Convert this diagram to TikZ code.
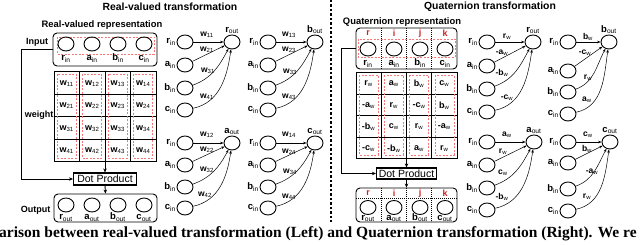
\documentclass[tikz,border=0pt]{standalone}
\usepackage{fontspec}
\setmainfont{Liberation Sans}
\newfontfamily\capfont{Liberation Serif}
\usetikzlibrary{shapes.geometric,arrows.meta}
\definecolor{dred}{RGB}{205,35,35}
\definecolor{lred}{RGB}{245,120,120}
\newcommand\sbs[2]{#1\textsubscript{\mdseries #2}}
\tikzset{
  nd/.style={ellipse,draw,line width=0.9pt,minimum width=16pt,minimum height=14pt,inner sep=0pt},
  vl/.style={font=\fontsize{9.5}{10}\selectfont\bfseries,inner sep=0pt},
  wl/.style={font=\fontsize{8.5}{9}\selectfont\bfseries,inner sep=0pt},
  cl/.style={font=\fontsize{9}{10}\selectfont\bfseries,inner sep=0pt},
  tl/.style={font=\fontsize{10.4}{11}\selectfont\bfseries,inner sep=0pt},
  sl/.style={font=\fontsize{9.4}{10}\selectfont\bfseries,inner sep=0pt},
  ql/.style={font=\fontsize{9}{10}\selectfont\bfseries,text=dred,inner sep=0pt},
  edge/.style={-{Stealth[length=3.5pt,width=2.6pt]},line width=0.5pt},
  rbox/.style={draw,rounded corners=4pt,line width=0.9pt,inner sep=0pt},
  gridl/.style={line width=1pt},
  rdash/.style={draw=lred,line width=0.7pt,dash pattern=on 2pt off 1.5pt},
  dotl/.style={line width=0.7pt,dash pattern=on 0.8pt off 1.2pt},
  flow/.style={-{Stealth[length=4pt,width=3.5pt]},line width=0.9pt},
  dotbox/.style={draw,line width=1.1pt,font=\fontsize{10.5}{11}\selectfont,inner sep=0pt},
}
% #1 prefix, #2 x in, #3 x out, #4-#7 y of r,a,b,c inputs, #8 output letter
\newcommand\mkgraph[8]{%
  \node[nd] (#1r) at (#2,-#4) {};
  \node[nd] (#1a) at (#2,-#5) {};
  \node[nd] (#1b) at (#2,-#6) {};
  \node[nd] (#1c) at (#2,-#7) {};
  \node[nd] (#1o) at (#3,-#4) {};
  \node[vl,anchor=east] (#1rl) at ([xshift=-0.5pt]#1r.west) {\sbs{r}{in}};
  \node[vl,anchor=east] (#1al) at ([xshift=-0.5pt]#1a.west) {\sbs{a}{in}};
  \node[vl,anchor=east] (#1bl) at ([xshift=-0.5pt]#1b.west) {\sbs{b}{in}};
  \node[vl,anchor=east] (#1cl) at ([xshift=-0.5pt]#1c.west) {\sbs{c}{in}};
  \node[vl,anchor=south] (#1ol) at ([yshift=1pt]#1o.north) {\sbs{#8}{out}};
  \draw[edge] (#1r) -- (#1o);
  \draw[edge] (#1a) -- (#1o);
  \draw[edge] (#1b) to[out=20,in=-118] (#1o);
  \draw[edge] (#1c) to[out=12,in=-98] (#1o);
}
\begin{document}
\begin{tikzpicture}[x=1pt,y=1pt]
\useasboundingbox (0,0) rectangle (640,-245);
\clip (0,0) rectangle (640,-245);

% titles
\node[tl] (t1) at (170,-7) {Real-valued transformation};
\node[tl] (t2) at (490,-7) {Quaternion transformation};
\node[sl] (s1) at (102,-25) {Real-valued representation};
\node[sl] (s2) at (402,-22) {Quaternion representation};

% separator
\draw[line width=1.3pt,dash pattern=on 2.5pt off 2pt] (331,0) -- (331,-222);

% ---------------- left: real-valued ----------------
\node[rbox,minimum width=104pt,minimum height=33pt] (inL) at (105,-49.5) {};
\draw[rdash] (57,-37) rectangle (154,-54);
\foreach \x/\l/\n in {66/r/1,92/a/2,118/b/3,144/c/4}{
  \node[nd] (iL\n) at (\x,-44) {};
  \node[vl,anchor=base] (iLl\n) at (\x,-61) {\sbs{\l}{in}};
}
\node[cl] (inputlab) at (37,-42) {Input};

\node[draw,gridl,minimum width=102pt,minimum height=90pt,inner sep=0pt] (gL) at (105,-117) {};
\foreach \k in {1,2,3}{
  \draw[gridl] (54+25.5*\k,-72) -- (54+25.5*\k,-162);
  \draw[gridl] (54,-72-22.5*\k) -- (156,-72-22.5*\k);
}
\foreach \j in {1,...,4}{
  \draw[rdash] (54+25.5*\j-22.25,-74.5) rectangle (54+25.5*\j-3.25,-158.5);
  \foreach \i in {1,...,4}{
    \node[cl] (wL\i\j) at (54+25.5*\j-12.75,-72-22.5*\i+11.25) {\sbs{w}{\i\j}};
  }
}
\node[cl] (weightlab) at (39,-115) {weight};

\node[dotbox,minimum width=63pt,minimum height=12pt] (dotL) at (105,-179) {Dot Product};
\draw[flow] (gL.south) -- (dotL.north);
\node[rbox,minimum width=103pt,minimum height=28pt] (outL) at (105.5,-208) {};
\draw[flow] (dotL.south) -- (outL.north);
\foreach \x/\l/\n in {66/r/1,92/a/2,118/b/3,144/c/4}{
  \node[nd] (oL\n) at (\x,-205) {};
  \node[vl,anchor=base] (oLl\n) at (\x,-220) {\sbs{\l}{out}};
}
\node[cl] (outputlab) at (35.5,-210) {Output};
\draw[flow,line width=0.8pt] (inL.west) -- ++(-31,0) |- (dotL.west);

% left graphs
\mkgraph{ga}{185}{232}{42}{65}{88}{110}{r}
\mkgraph{gb}{268}{315}{42}{65}{88}{110}{b}
\mkgraph{gc}{185}{232}{143}{165}{187}{208}{a}
\mkgraph{gd}{268}{315}{143}{165}{187}{208}{c}
\node[wl] (la1) at (207,-35) {\sbs{w}{11}};
\node[wl] (la2) at (207,-49.5) {\sbs{w}{21}};
\node[wl] (la3) at (208,-71) {\sbs{w}{31}};
\node[wl] (la4) at (207,-97) {\sbs{w}{41}};
\node[wl] (lb1) at (289,-35) {\sbs{w}{13}};
\node[wl] (lb2) at (289,-50) {\sbs{w}{23}};
\node[wl] (lb3) at (290,-72) {\sbs{w}{33}};
\node[wl] (lb4) at (289,-97) {\sbs{w}{43}};
\node[wl] (lc1) at (207,-135) {\sbs{w}{12}};
\node[wl] (lc2) at (207,-150) {\sbs{w}{22}};
\node[wl] (lc3) at (207,-170) {\sbs{w}{32}};
\node[wl] (lc4) at (205,-195) {\sbs{w}{42}};
\node[wl] (ld1) at (289,-135) {\sbs{w}{14}};
\node[wl] (ld2) at (289,-152) {\sbs{w}{24}};
\node[wl] (ld3) at (290,-172) {\sbs{w}{34}};
\node[wl] (ld4) at (289,-197) {\sbs{w}{44}};

% ---------------- right: quaternion ----------------
\node[rbox,minimum width=101pt,minimum height=41pt] (inR) at (406.5,-48.5) {};
\draw[rdash] (358,-39) rectangle (455,-57.5);
\foreach \k in {1,2,3}{
  \draw[dotl] (356+25.25*\k,-28) -- (356+25.25*\k,-69);
}
\foreach \x/\q/\l/\n in {368/r/r/1,394/i/a/2,420/j/b/3,445/k/c/4}{
  \node[ql] (qiR\n) at (\x,-33) {\q};
  \node[nd] (iR\n) at (\x,-49) {};
  \node[vl,anchor=base] (iRl\n) at (\x,-66) {\sbs{\l}{in}};
}

\node[draw,gridl,minimum width=101pt,minimum height=86pt,inner sep=0pt] (gR) at (406.5,-116) {};
\foreach \k in {1,2,3}{
  \draw[gridl] (356+25.25*\k,-73) -- (356+25.25*\k,-159);
  \draw[gridl] (356,-73-21.5*\k) -- (457,-73-21.5*\k);
}
\foreach \j in {1,...,4}{
  \draw[rdash] (356+25.25*\j-22.125,-75.5) rectangle (356+25.25*\j-3.125,-155);
}
\foreach \i/\ta/\tb/\tc/\td in {1/r/a/b/c,2/-a/r/-c/b,3/-b/c/r/-a,4/-c/-b/a/r}{
  \node[cl] (wR\i1) at (368.625,-73-21.5*\i+10.75) {\sbs{\ta}{w}};
  \node[cl] (wR\i2) at (393.875,-73-21.5*\i+10.75) {\sbs{\tb}{w}};
  \node[cl] (wR\i3) at (419.125,-73-21.5*\i+10.75) {\sbs{\tc}{w}};
  \node[cl] (wR\i4) at (444.375,-73-21.5*\i+10.75) {\sbs{\td}{w}};
}

\node[dotbox,minimum width=60pt,minimum height=11pt] (dotR) at (406.5,-173.5) {Dot Product};
\draw[flow] (gR.south) -- (dotR.north);
\node[rbox,minimum width=101pt,minimum height=34pt] (outR) at (406.5,-205) {};
\draw[flow] (dotR.south) -- (outR.north);
\draw[dotl] (356,-198) -- (457,-198);
\foreach \k in {1,2,3}{
  \draw[dotl] (356+25.25*\k,-188) -- (356+25.25*\k,-222);
}
\foreach \x/\q/\l/\n in {368/r/r/1,394/i/a/2,420/j/b/3,445/k/c/4}{
  \node[ql] (qoR\n) at (\x,-193) {\q};
  \node[nd] (oR\n) at (\x,-207.5) {};
  \node[vl,anchor=base] (oRl\n) at (\x,-220.5) {\sbs{\l}{out}};
}
\draw[flow,line width=0.8pt] (inR.west) -- ++(-14,0) |- (dotR.west);

% right graphs
\mkgraph{ge}{487}{533}{42}{66}{89}{112}{r}
\mkgraph{gf}{568}{609}{42}{71}{92}{114}{b}
\mkgraph{gg}{487}{534}{142}{165}{188}{210}{a}
\mkgraph{gh}{568}{610}{142}{163}{189}{211}{c}
\node[wl] (le1) at (507,-37) {\sbs{r}{w}};
\node[wl] (le2) at (502,-53) {\sbs{-a}{w}};
\node[wl] (le3) at (502,-73) {\sbs{-b}{w}};
\node[wl] (le4) at (507,-98) {\sbs{-c}{w}};
\node[wl] (lf1) at (588,-37) {\sbs{b}{w}};
\node[wl] (lf2) at (585,-53) {\sbs{-c}{w}};
\node[wl] (lf3) at (588,-78) {\sbs{r}{w}};
\node[wl] (lf4) at (587,-100) {\sbs{a}{w}};
\node[wl] (lg1) at (507,-135) {\sbs{a}{w}};
\node[wl] (lg2) at (503,-152) {\sbs{r}{w}};
\node[wl] (lg3) at (503,-173) {\sbs{c}{w}};
\node[wl] (lg4) at (502,-197) {\sbs{-b}{w}};
\node[wl] (lh1) at (588,-135) {\sbs{c}{w}};
\node[wl] (lh2) at (587,-149) {\sbs{b}{w}};
\node[wl] (lh3) at (592,-172) {\sbs{-a}{w}};
\node[wl] (lh4) at (587,-197) {\sbs{r}{w}};

% caption (cropped)
\node[anchor=base west,inner sep=0pt,font=\capfont\bfseries\fontsize{15.5}{16}\selectfont] (cap) at (-1,-238) {arison between real-valued transformation (Left) and Quaternion transformation (Right). We re};
\end{tikzpicture}
\end{document}
